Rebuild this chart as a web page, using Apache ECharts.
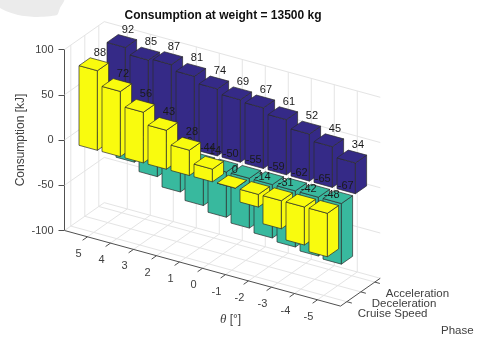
<!DOCTYPE html>
<html>
<head>
<meta charset="utf-8">
<style>
html,body{margin:0;padding:0;background:#fff;}
#main{width:481px;height:338px;}
</style>
<script src="https://cdn.jsdelivr.net/npm/echarts@6/dist/echarts.min.js"></script>
</head>
<body>
<div id="main"></div>
<script>
// data (theta 5 .. -5)
var thetaTicks = [5, 4, 3, 2, 1, 0, -1, -2, -3, -4, -5];
var phaseNames = ['Cruise Speed', 'Deceleration', 'Acceleration'];
var cruiseValues = [88, 72, 56, 43, 28, 14, 0, -14, -31, -42, -48];
var decelValues = [-8, -17, -26, -36, -44, -50, -55, -59, -62, -65, -67];   // first four are hidden, estimated
var accelValues = [92, 85, 87, 81, 74, 69, 67, 61, 52, 45, 34];
var zTicks = [-100, -50, 0, 50, 100];
var phaseColors = ['#f9fb0e', '#38b99e', '#352a87'];

var thetaMax = 6, thetaMin = -6;
var phaseFront = 0.55, phaseBack = 3.39;
var zMin = -100, zMax = 100;

// oblique view: theta and z come from the axes, the rest is shear
var thetaDy = 6.3, phaseDx = 14, phaseDy = 9.8;
var barHalf = 0.4, barDrop = 2;
var textColor = '#404040', gridColor = '#e4e4e4', axisColor = '#505050', edgeColor = '#2b2b2b';
var fontName = '"Liberation Sans", Arial, sans-serif';

function project(api, theta, phase, z) {
    var c = api.coord([theta, z]);
    return [
        c[0] + (phase - phaseFront) * phaseDx,
        c[1] + (thetaMax - theta) * thetaDy - (phase - phaseFront) * phaseDy
    ];
}

function barPoint(api, theta, phase, z) {
    var c = project(api, theta, phase, z);
    return [c[0], c[1] + barDrop];
}

function seg(a, b, color, w) {
    return {
        type: 'line',
        shape: {x1: a[0], y1: a[1], x2: b[0], y2: b[1]},
        style: {stroke: color, lineWidth: w}
    };
}

function face(points, color) {
    return {
        type: 'polygon',
        shape: {points: points},
        style: {fill: color, stroke: edgeColor, lineWidth: 0.7, lineJoin: 'round'}
    };
}

function renderFrame(params, api) {
    var kids = [];
    var P = function (t, p, z) { return project(api, t, p, z); };
    // walls
    zTicks.forEach(function (z) {
        kids.push(seg(P(thetaMax, phaseFront, z), P(thetaMax, phaseBack, z), gridColor, 1));
        kids.push(seg(P(thetaMax, phaseBack, z), P(thetaMin, phaseBack, z), gridColor, 1));
    });
    thetaTicks.forEach(function (t) {
        kids.push(seg(P(t, phaseBack, zMin), P(t, phaseBack, zMax), gridColor, 1));
        kids.push(seg(P(t, phaseFront, zMin), P(t, phaseBack, zMin), gridColor, 1));
    });
    phaseNames.forEach(function (name, i) {
        var p = i + 1;
        kids.push(seg(P(thetaMax, p, zMin), P(thetaMax, p, zMax), gridColor, 1));
        kids.push(seg(P(thetaMax, p, zMin), P(thetaMin, p, zMin), gridColor, 1));
    });
    // bottom axes
    kids.push(seg(P(thetaMax, phaseFront, zMin), P(thetaMin, phaseFront, zMin), axisColor, 1));
    kids.push(seg(P(thetaMin, phaseFront, zMin), P(thetaMin, phaseBack, zMin), axisColor, 1));
    thetaTicks.forEach(function (t) {
        var a = P(t, phaseFront, zMin);
        kids.push(seg(a, P(t, phaseFront - 0.35, zMin), axisColor, 1));
        kids.push({
            type: 'text',
            style: {
                x: a[0] - 9, y: a[1] + 17, text: String(t), fill: textColor,
                font: '11px ' + fontName, align: 'center', verticalAlign: 'middle'
            }
        });
    });
    phaseNames.forEach(function (name, i) {
        var a = P(thetaMin, i + 1, zMin);
        kids.push(seg(a, P(thetaMin - 0.22, i + 1, zMin), axisColor, 1));
        kids.push({
            type: 'text',
            style: {
                x: a[0] + 11, y: a[1] + 12, text: name, fill: textColor,
                font: '11.5px ' + fontName, align: 'left', verticalAlign: 'middle'
            }
        });
    });
    return {type: 'group', children: kids};
}

function renderBar(params, api) {
    var t = api.value(0), v = api.value(1), p = api.value(2);
    var top = Math.max(v, 0), bottom = Math.min(v, 0);
    var t0 = t + barHalf, t1 = t - barHalf, p0 = p - barHalf, p1 = p + barHalf;
    var color = phaseColors[p - 1];
    var labelPos = barPoint(api, t, p, top);
    return {
        type: 'group',
        children: [
            face([barPoint(api, t0, p0, bottom), barPoint(api, t1, p0, bottom), barPoint(api, t1, p0, top), barPoint(api, t0, p0, top)], color),
            face([barPoint(api, t1, p0, bottom), barPoint(api, t1, p1, bottom), barPoint(api, t1, p1, top), barPoint(api, t1, p0, top)], color),
            face([barPoint(api, t0, p0, top), barPoint(api, t1, p0, top), barPoint(api, t1, p1, top), barPoint(api, t0, p1, top)], color),
            {
                type: 'text',
                style: {
                    x: labelPos[0], y: labelPos[1] - 11.5, text: String(v), fill: '#1a1a1a',
                    font: '11px ' + fontName, align: 'left', verticalAlign: 'middle'
                }
            }
        ]
    };
}

// painter's order: far row first, the view looks from the negative theta side
var barData = [];
[accelValues, decelValues, cruiseValues].forEach(function (vals, r) {
    for (var i = 0; i < thetaTicks.length; i++) {
        barData.push([thetaTicks[i], vals[i], 3 - r]);
    }
});

var chart = echarts.init(document.getElementById('main'), null, {renderer: 'canvas'});
chart.setOption({
    animation: false,
    backgroundColor: '#fff',
    title: {
        text: 'Consumption at weight = 13500 kg',
        left: 218, top: 5, textAlign: 'center',
        textStyle: {fontFamily: fontName, fontSize: 12, fontWeight: 'bold', color: '#111'}
    },
    grid: {left: 64.5, top: 49.5, width: 276, height: 181},
    xAxis: {type: 'value', min: thetaMin, max: thetaMax, inverse: true, show: false},
    yAxis: {
        type: 'value', position: 'left', min: zMin, max: zMax, interval: 50,
        name: 'Consumption [kJ]', nameLocation: 'middle', nameRotate: 90, nameGap: 38,
        nameMoveOverlap: false,
        nameTextStyle: {color: textColor, fontFamily: fontName, fontSize: 12},
        axisLine: {show: true, onZero: false, lineStyle: {color: axisColor, width: 1}},
        axisTick: {show: true, inside: false, length: 6, lineStyle: {color: axisColor}},
        axisLabel: {color: textColor, fontFamily: fontName, fontSize: 11, margin: 11},
        splitLine: {show: false}
    },
    graphic: [
        {
            type: 'polygon', silent: true, z: -1,
            shape: {points: [[0, 0], [64, 0], [60, 8], [57, 15], [36, 17], [18, 15], [0, 8]], smooth: 0.2},
            style: {fill: '#ebebeb'}
        },
        {
            type: 'text', left: 220, top: 313,
            style: {
                text: '{a|\u03b8} [\u00b0]',
                rich: {a: {fontFamily: '"Liberation Serif", serif', fontStyle: 'italic', fontSize: 13, fill: textColor}},
                font: '12px ' + fontName, fill: textColor
            }
        },
        {
            type: 'text', left: 441, top: 324.5,
            style: {text: 'Phase', font: '11.5px ' + fontName, fill: textColor}
        }
    ],
    series: [
        {type: 'custom', silent: true, z: 1, renderItem: renderFrame, data: [[0, 0]], encode: {x: 0, y: 1}},
        {type: 'custom', silent: true, z: 2, renderItem: renderBar, data: barData, encode: {x: 0, y: 1}}
    ]
});
</script>
</body>
</html>
